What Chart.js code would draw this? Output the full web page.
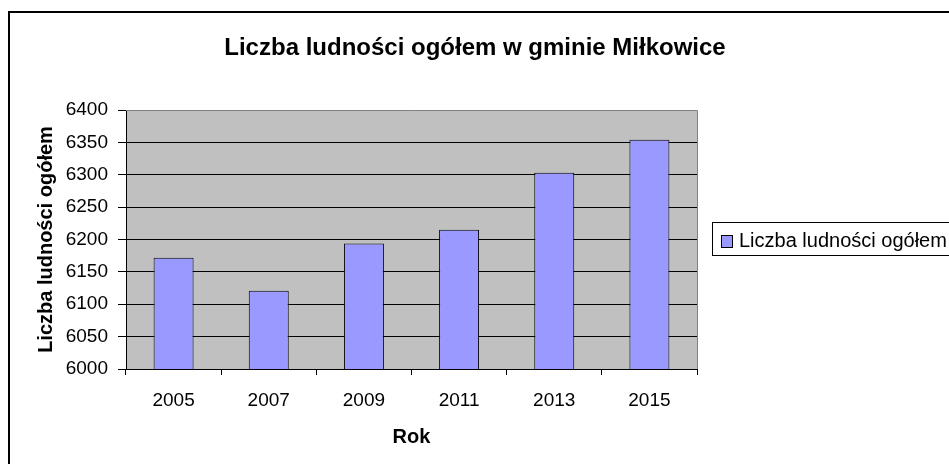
<!DOCTYPE html>
<html>
<head>
<meta charset="utf-8">
<script src="https://cdn.jsdelivr.net/npm/chart.js@4.4.0/dist/chart.umd.min.js"></script>
<style>
    html, body { margin: 0; padding: 0; background: #fff; }
    #wrap { width: 949px; height: 464px; }
</style>
</head>
<body>
<div id="wrap"><canvas id="popChart" width="949" height="464"></canvas></div>
<script>
// Chart data
const years = ['2005', '2007', '2009', '2011', '2013', '2015'];
const population = [6172, 6121, 6194, 6215, 6303, 6354];
const yMin = 6000;
const yMax = 6400;
const yStep = 50;

const chartTitle = 'Liczba ludności ogółem w gminie Miłkowice';
const seriesLabel = 'Liczba ludności ogółem';
const xTitle = 'Rok';
const yTitle = 'Liczba ludności ogółem';

const FONT = '"Liberation Sans", Arial, sans-serif';
const BAR_COLOR = '#9999FF';

// Excel-like frame: grey plot area, title, boxed legend, outer border
const excelFrame = {
    id: 'excelFrame',
    beforeDraw(chart) {
        const { ctx, chartArea: a } = chart;
        ctx.save();
        ctx.fillStyle = '#fff';
        ctx.fillRect(0, 0, chart.width, chart.height);
        ctx.fillStyle = '#C0C0C0';
        ctx.fillRect(a.left, a.top, a.right - a.left, a.bottom - a.top);
        ctx.restore();
    },
    afterDraw(chart) {
        const { ctx, chartArea: a } = chart;
        ctx.save();

        // plot area top/right border
        ctx.strokeStyle = '#808080';
        ctx.lineWidth = 1;
        ctx.beginPath();
        ctx.moveTo(a.left, a.top + 0.5);
        ctx.lineTo(a.right + 0.5, a.top + 0.5);
        ctx.lineTo(a.right + 0.5, a.bottom);
        ctx.stroke();

        // title
        ctx.fillStyle = '#000';
        ctx.font = 'bold 24px ' + FONT;
        ctx.textAlign = 'center';
        ctx.textBaseline = 'alphabetic';
        ctx.fillText(chartTitle, 475, 55);

        // legend
        const ds = chart.data.datasets[0];
        ctx.strokeStyle = '#000';
        ctx.lineWidth = 1;
        ctx.strokeRect(712.5, 222.5, 300, 33);
        ctx.fillStyle = ds.backgroundColor;
        ctx.fillRect(721, 235, 11, 12);
        ctx.strokeRect(721.5, 235.5, 11, 12);
        ctx.fillStyle = '#000';
        ctx.font = '20px ' + FONT;
        ctx.textAlign = 'left';
        ctx.fillText(ds.label, 739, 247);

        // outer chart border
        ctx.lineWidth = 2;
        ctx.beginPath();
        ctx.moveTo(9, chart.height);
        ctx.lineTo(9, 12);
        ctx.lineTo(chart.width, 12);
        ctx.stroke();
        ctx.restore();
    }
};

const ctx = document.getElementById('popChart');

new Chart(ctx, {
    type: 'bar',
    data: {
        labels: years,
        datasets: [{
            label: seriesLabel,
            data: population,
            backgroundColor: BAR_COLOR,
            borderColor: '#000',
            borderWidth: 1,
            barPercentage: 0.42,
            categoryPercentage: 1.0
        }]
    },
    options: {
        responsive: false,
        animation: false,
        devicePixelRatio: 1,
        layout: { padding: { top: 110, right: 252, left: 0, bottom: 0 } },
        plugins: {
            legend: { display: false },
            title: { display: false },
            tooltip: { enabled: false }
        },
        scales: {
            x: {
                afterFit: (scale) => { scale.height = 95; },
                grid: {
                    offset: true,
                    drawOnChartArea: false,
                    drawTicks: true,
                    tickLength: 6,
                    tickColor: '#000'
                },
                border: { color: '#000', width: 1 },
                ticks: {
                    color: '#000',
                    padding: 14,
                    font: { family: FONT, size: 19 }
                },
                title: {
                    display: true,
                    text: xTitle,
                    color: '#000',
                    padding: { top: 0, bottom: 15 },
                    font: { family: FONT, size: 20, weight: 'bold' }
                }
            },
            y: {
                min: yMin,
                max: yMax,
                afterFit: (scale) => { scale.width = 126; },
                grid: {
                    color: (c) => (c.tick && c.tick.value === yMax ? 'rgba(0,0,0,0)' : '#000'),
                    tickColor: '#000',
                    tickLength: 8,
                    drawTicks: true
                },
                border: { color: '#000', width: 1 },
                ticks: {
                    stepSize: yStep,
                    color: '#000',
                    padding: 10,
                    callback: (value) => String(value),
                    font: { family: FONT, size: 19 }
                },
                title: {
                    display: true,
                    text: yTitle,
                    color: '#000',
                    padding: { top: 34, bottom: 0 },
                    font: { family: FONT, size: 20, weight: 'bold' }
                }
            }
        }
    },
    plugins: [excelFrame]
});
</script>
</body>
</html>
